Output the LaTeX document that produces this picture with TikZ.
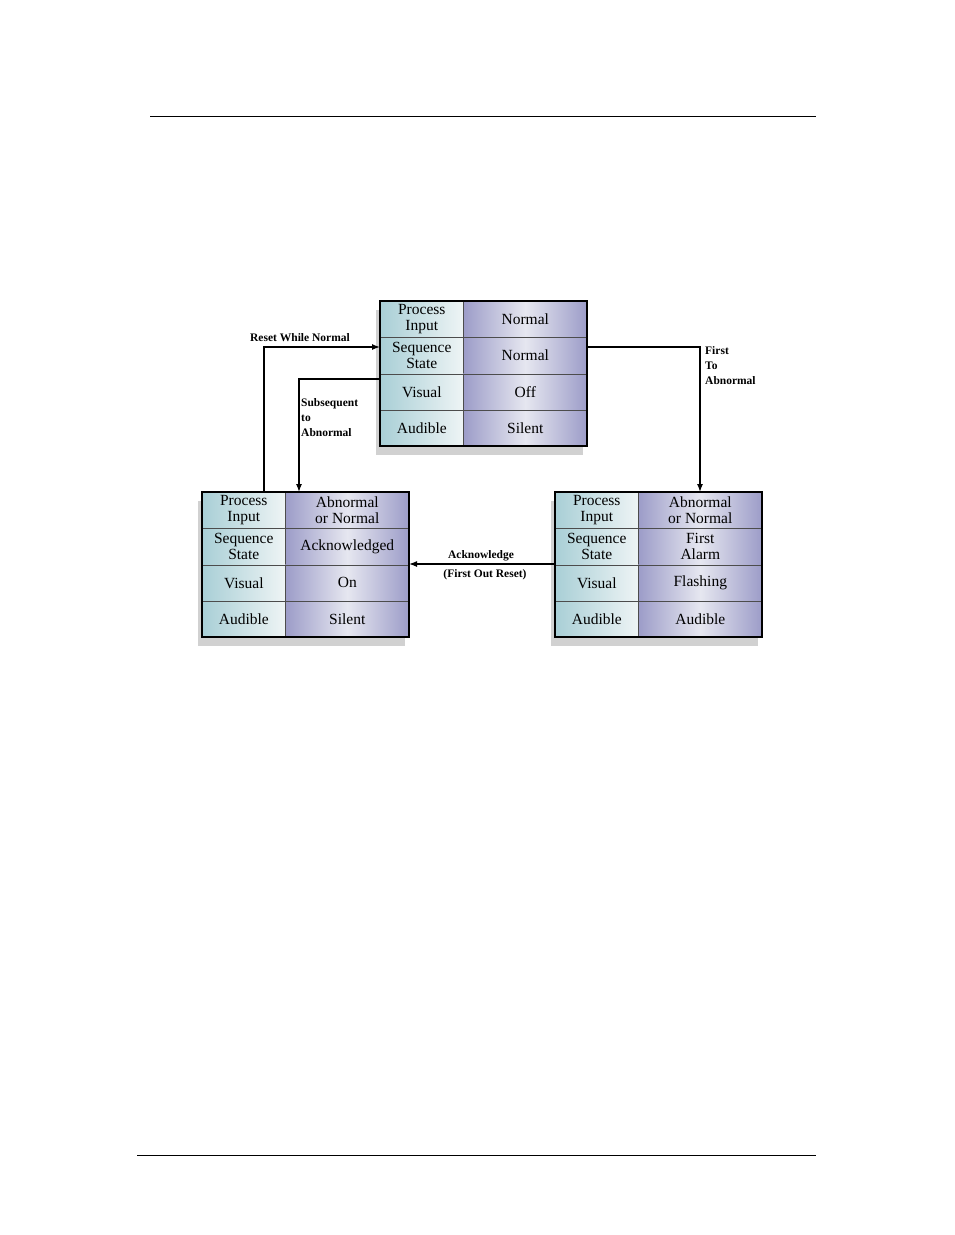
\documentclass[tikz,border=0pt]{standalone}
\usepackage{fontspec}
\setmainfont{Liberation Serif}
\usetikzlibrary{arrows.meta,shadows}
\definecolor{lcA}{HTML}{A9CFD6}
\definecolor{lcB}{HTML}{EEF4F5}
\definecolor{rcA}{HTML}{9C9CC8}
\definecolor{rcB}{HTML}{E6E7F0}
\tikzset{
 x=1pt,y=-1pt,
 tbl/.style={draw=black!80,line width=1pt,fill=white,minimum width=207pt,minimum height=145pt,anchor=north west,inner sep=0pt,
   drop shadow={shadow xshift=-5pt,shadow yshift=-8pt,opacity=0.18,fill=black}},
 lcell/.style={draw=black!70,line width=0.6pt,anchor=north west,minimum width=83pt,minimum height=36.25pt,inner sep=0pt,
   left color=lcA,right color=lcB,align=center,font=\fontsize{15.5}{16}\selectfont},
 rcell/.style={draw=black!70,line width=0.6pt,anchor=north west,minimum width=124pt,minimum height=36.25pt,inner sep=0pt,
   left color=rcA,right color=rcA,middle color=rcB,align=center,font=\fontsize{15.5}{16}\selectfont},
 lbl/.style={font=\bfseries\fontsize{11.5}{15}\selectfont,align=left,inner sep=0pt},
 arr/.style={line width=1.3pt,-{Latex[length=8pt,width=6pt]}},
 rule/.style={line width=0.8pt}
}
\newcommand\stbl[7]{%
 \node[tbl] (#1) at (#2,#3) {};
 \node[lcell] (#1-l1) at (#2,#3) {Process\\Input};
 \node[lcell] (#1-l2) at (#2,#3+36.25) {Sequence\\State};
 \node[lcell] (#1-l3) at (#2,#3+72.5) {Visual};
 \node[lcell] (#1-l4) at (#2,#3+108.75) {Audible};
 \node[rcell] (#1-r1) at (#2+83,#3) {#4};
 \node[rcell] (#1-r2) at (#2+83,#3+36.25) {#5};
 \node[rcell] (#1-r3) at (#2+83,#3+72.5) {#6};
 \node[rcell] (#1-r4) at (#2+83,#3+108.75) {#7};
 \draw[line width=1.2pt] (#2,#3) rectangle (#2+207,#3+145);
}
\begin{document}
\begin{tikzpicture}
\useasboundingbox (0,0) rectangle (954,1235);
\coordinate (h1) at (150,116); \coordinate (h2) at (816,116);
\draw[rule] (h1) -- (h2);
\coordinate (f1) at (137,1155); \coordinate (f2) at (816,1155);
\draw[rule] (f1) -- (f2);

\stbl{T}{380}{301}{Normal}{Normal}{Off}{Silent}
\stbl{L}{202}{492}{Abnormal\\or Normal}{Acknowledged}{On}{Silent}
\stbl{R}{555}{492}{Abnormal\\or Normal}{First\\Alarm}{Flashing}{Audible}

% Reset While Normal
\coordinate (rsA) at (264,492);
\coordinate (rsB) at (380,347);
\draw[arr] (rsA) |- (rsB);
\node[lbl,anchor=south] (rsL) at (300,342) {Reset While Normal};
% Subsequent to Abnormal
\coordinate (sbA) at (380,379);
\coordinate (sbB) at (299,492);
\draw[arr] (sbA) -| (sbB);
\node[lbl,anchor=north west] (sbL) at (301,398) {Subsequent\\to\\Abnormal};
% First To Abnormal
\coordinate (ftA) at (586,347);
\coordinate (ftB) at (700,492);
\draw[arr] (ftA) -| (ftB);
\node[lbl,anchor=north west] (ftL) at (705,346) {First\\To\\Abnormal};
% Acknowledge
\coordinate (akA) at (555,564);
\coordinate (akB) at (409,564);
\draw[arr] (akA) -- (akB);
\node[lbl] (akL1) at (481,556) {Acknowledge};
\node[lbl] (akL2) at (485,575) {(First Out Reset)};
\end{tikzpicture}
\end{document}
